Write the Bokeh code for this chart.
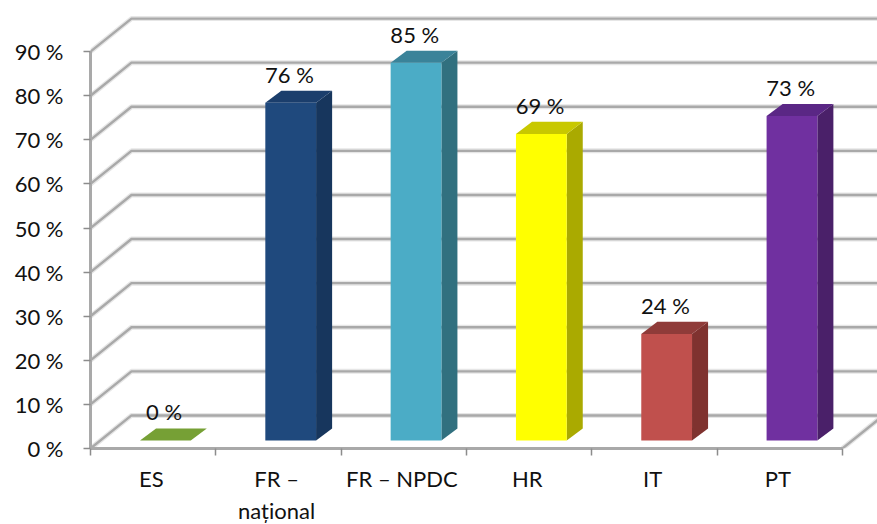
from bokeh.embed import file_html
from bokeh.resources import INLINE
from bokeh.models import ColumnDataSource, FixedTicker, LinearAxis, PrintfTickFormatter, Range1d
from bokeh.plotting import figure
from bokeh.core.properties import value

categories = ["ES", "FR –\nnațional", "FR – NPDC", "HR", "IT", "PT"]
shares = [0, 76, 85, 69, 24, 73]
front_colors = ["#76a035", "#1f497d", "#4bacc6", "#ffff00", "#c0504d", "#7030a0"]
top_colors = ["#5f8a2c", "#1b3e6c", "#3a8399", "#c8c800", "#8f3b39", "#5a2785"]
side_colors = ["#4f7324", "#17365d", "#31707f", "#aaaa00", "#7f322f", "#4a2069"]
y_ticks = [0, 10, 20, 30, 40, 50, 60, 70, 80, 90]

FONT = "Lato"
FONT_SIZE = "22px"
TEXT = "#111111"
GRID = "#a9a9a9"
WALL_DX, WALL_DY = 0.327, 7.5      # depth of the chart box, in axis units
BAR_LEFT, BAR_WIDTH = 0.395, 0.405 # bar front face within its category slot
BASE_DY = 1.8                      # front face stands back from the box edge
BAR_DX, BAR_DY = 0.128, 2.75       # depth of a bar
BAR_SCALE = 1.008                  # front plane of the box is slightly nearer

p = figure(width=877, height=524, frame_width=787, frame_height=448,
           output_backend="svg", toolbar_location=None,
           x_range=Range1d(0, 6.28), y_range=Range1d(0, 101.6),
           x_axis_type=None, y_axis_type=None,
           min_border_left=90, min_border_right=0, min_border_top=0, min_border_bottom=76,
           outline_line_color=None, background_fill_color="white", border_fill_color="white")
p.grid.visible = False

# Side wall diagonals and back wall lines, with a pale halo under each
wall_xs = [[0, WALL_DX, 7] for _ in y_ticks]
wall_ys = [[t, t + WALL_DY, t + WALL_DY] for t in y_ticks]
p.multi_line(wall_xs, wall_ys, line_color="#e6e6e6", line_width=5)
p.multi_line(wall_xs, wall_ys, line_color=GRID, line_width=2.4)
p.line([6, 6 + WALL_DX], [0, WALL_DY], line_color="#e6e6e6", line_width=5)
p.line([6, 6 + WALL_DX], [0, WALL_DY], line_color=GRID, line_width=2.4)

# Each bar is three faces: side, top and front
for i, share in enumerate(shares):
    x0 = i + BAR_LEFT
    x1 = x0 + BAR_WIDTH
    y0 = BASE_DY
    y1 = share * BAR_SCALE + BASE_DY
    if share > 0:
        p.patch([x1, x1 + BAR_DX, x1 + BAR_DX, x1],
                [y0, y0 + BAR_DY, y1 + BAR_DY, y1],
                fill_color=side_colors[i], line_color=None)
    p.patch([x0, x1, x1 + BAR_DX, x0 + BAR_DX],
            [y1, y1, y1 + BAR_DY, y1 + BAR_DY],
            fill_color=front_colors[0] if share == 0 else top_colors[i], line_color=None)
    if share > 0:
        p.quad(left=x0, right=x1, bottom=y0, top=y1,
               fill_color=front_colors[i], line_color=None)

# Value labels above each bar
label_source = ColumnDataSource(dict(
    x=[i + BAR_LEFT + BAR_WIDTH / 2 - 0.01 for i in range(len(shares))],
    y=[s * BAR_SCALE + BASE_DY + BAR_DY for s in shares],
    text=[f"{s} %" for s in shares],
))
p.text("x", "y", text="text", source=label_source, text_align="center",
       text_baseline="bottom", y_offset=-3, text_font=value(FONT),
       text_font_size=FONT_SIZE, text_color=TEXT)

y_axis = LinearAxis(ticker=FixedTicker(ticks=y_ticks), bounds=(0, 90),
                    formatter=PrintfTickFormatter(format="%d %%"))
y_axis.axis_line_color = GRID
y_axis.axis_line_width = 3
y_axis.major_tick_line_color = "#8c8c8c"
y_axis.major_tick_line_width = 1.5
y_axis.major_tick_in = 0
y_axis.major_tick_out = 7
y_axis.minor_tick_line_color = None
y_axis.major_label_standoff = 20
y_axis.major_label_text_font = FONT
y_axis.major_label_text_font_size = FONT_SIZE
y_axis.major_label_text_color = TEXT
p.add_layout(y_axis, "left")

# Names sit at slot centres; the tick marks sit on the slot boundaries
centers = [i + 0.485 for i in range(len(categories))]
edges = list(range(len(categories) + 1))
x_axis = LinearAxis(ticker=FixedTicker(ticks=centers, minor_ticks=edges), bounds=(0, 6),
                    major_label_overrides=dict(zip(centers, categories)))
x_axis.axis_line_color = GRID
x_axis.axis_line_width = 3
x_axis.major_tick_line_color = None
x_axis.major_tick_in = 0
x_axis.major_tick_out = 0
x_axis.minor_tick_line_color = "#8c8c8c"
x_axis.minor_tick_line_width = 1.5
x_axis.minor_tick_in = 0
x_axis.minor_tick_out = 7
x_axis.major_label_standoff = 9
x_axis.major_label_text_font = FONT
x_axis.major_label_text_font_size = FONT_SIZE
x_axis.major_label_text_color = TEXT
p.add_layout(x_axis, "below")

open("out.html", "w").write(file_html(p, INLINE))
